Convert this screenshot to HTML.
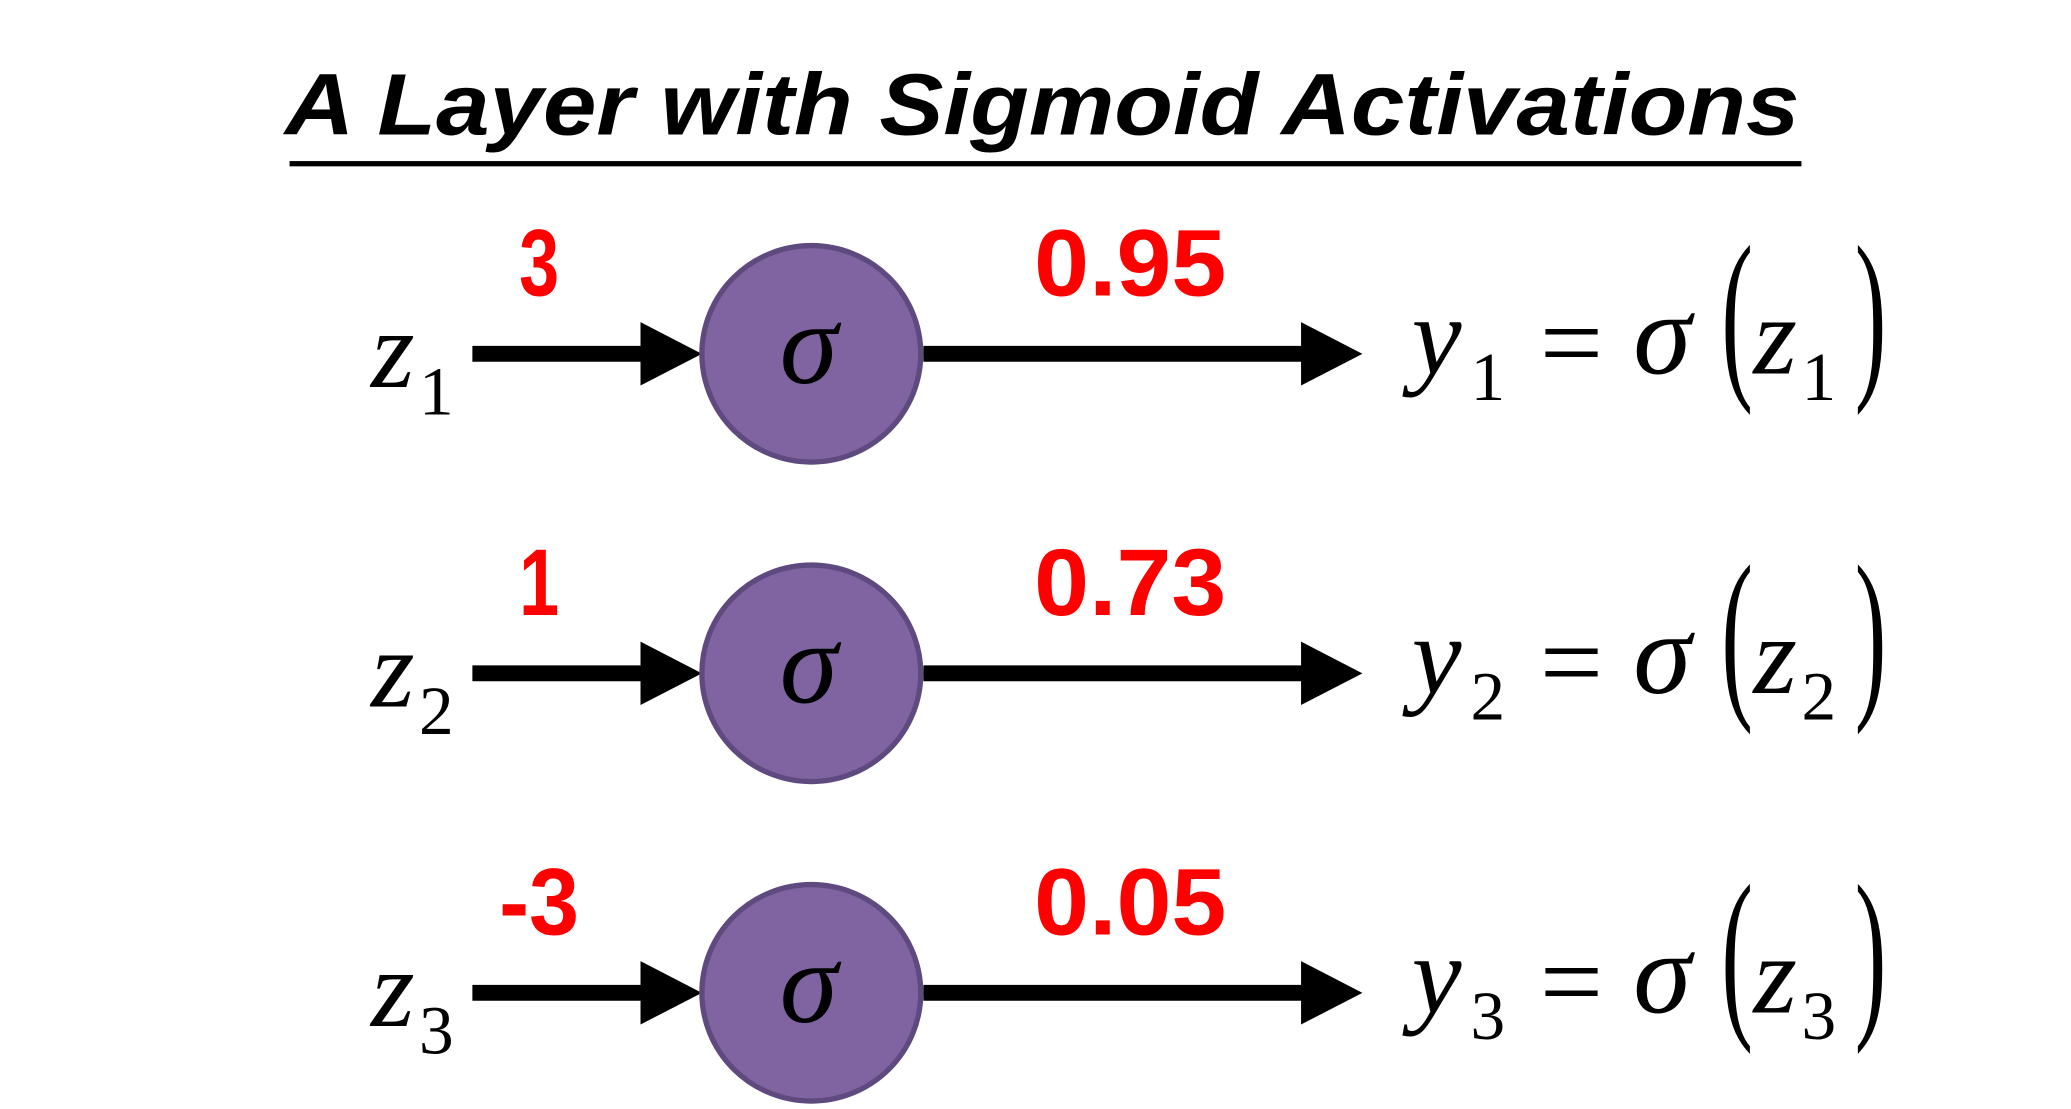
<!DOCTYPE html>
<html><head><meta charset="utf-8"><style>
html,body{margin:0;padding:0;background:#fff;width:2071px;height:1109px;overflow:hidden}
svg{display:block}
.t{font-family:"Liberation Sans",sans-serif;font-weight:bold;font-style:italic}
.r{font-family:"Liberation Sans",sans-serif;font-weight:bold;fill:#ff0000}
.m{font-family:"Liberation Serif",serif;font-style:italic;fill:#000}
.n{font-family:"Liberation Serif",serif;fill:#000}
</style></head><body>
<svg id="c" width="2071" height="1109" viewBox="0 0 1552 840" preserveAspectRatio="none">
<text class="t" x="781" y="102" font-size="66" text-anchor="middle" textLength="1135" lengthAdjust="spacingAndGlyphs">A Layer with Sigmoid Activations</text>
<rect x="217" y="122" width="1133" height="4" fill="#000"/>
</svg>
<script>
const inputs = [3, 1, -3];
const outputs = [0.95, 0.73, 0.05];
const indices = ["1", "2", "3"];
const svg = document.getElementById('c');
const NS = 'http://www.w3.org/2000/svg';
function mk(tag, attrs, text){
  const e = document.createElementNS(NS, tag);
  for (const k in attrs) e.setAttribute(k, attrs[k]);
  if (text !== undefined) e.textContent = text;
  svg.appendChild(e);
  return e;
}
function rowY(i){ return 268 + i * 242; }
inputs.forEach((v, i) => {
  const y = rowY(i);
  const g1 = mk('polygon', {points:`354,${y-6} 480,${y-6} 480,${y-24} 526,${y} 480,${y+24} 480,${y+6} 354,${y+6}`, fill:'#000'});
  
  
  const g2 = mk('polygon', {points:`692,${y-6} 975,${y-6} 975,${y-24} 1021,${y} 975,${y+24} 975,${y+6} 692,${y+6}`, fill:'#000'});
  
  
  const c = mk('circle', {cx:608, cy:y, r:82, fill:'#8064A2', stroke:'#5E4A7E', 'stroke-width':4});
  
  
  const s = mk('text', {class:'m', x:606, y:y+22, 'font-size':88, 'text-anchor':'middle'}, 'σ');
  
  
  const iw = String(v).length * 30;
  const iv = mk('text', {class:'r', x:404, y:y-44, 'font-size':72, 'text-anchor':'middle', textLength:iw, lengthAdjust:'spacingAndGlyphs'}, String(v));
  
  
  const ov = mk('text', {class:'r', x:847, y:y-44, 'font-size':72, 'text-anchor':'middle', textLength:144, lengthAdjust:'spacingAndGlyphs'}, outputs[i].toFixed(2));
  
  
  const z = mk('text', {class:'m', x:278, y:y+25, 'font-size':84}, 'z');
  
  
  const zs = mk('text', {class:'n', x:314, y:y+46, 'font-size':52}, indices[i]);
  
  
  const eq = mk('text', {class:'m', x:1058, y:y+15, 'font-size':84}, 'y');
  
  
  const eqs = mk('text', {class:'n', x:1102, y:y+35, 'font-size':52}, indices[i]);
  
  
  const e = mk('text', {class:'n', x:1154, y:y+20, 'font-size':84}, '=');
  
  
  const sg = mk('text', {class:'m', x:1224, y:y+15, 'font-size':88}, 'σ');
  
  
  const lp = mk('text', {class:'n', x:1290, y:y+16, 'font-size':142, transform:`translate(${1290*0.5},0) scale(0.5,1)`}, '(');
  
  
  const ez = mk('text', {class:'m', x:1314, y:y+15, 'font-size':84}, 'z');
  
  
  const ezs = mk('text', {class:'n', x:1350, y:y+35, 'font-size':52}, indices[i]);
  
  
  const rp = mk('text', {class:'n', x:1390, y:y+16, 'font-size':142, transform:`translate(${1390*0.5},0) scale(0.5,1)`}, ')');
  
  
});
</script>
</body></html>
